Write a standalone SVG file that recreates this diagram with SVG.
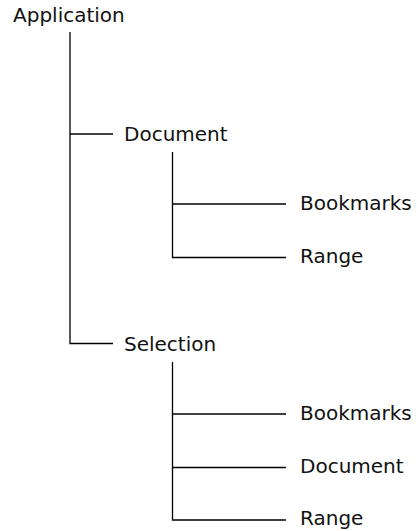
<svg xmlns="http://www.w3.org/2000/svg" width="417" height="531" viewBox="0 0 417 531">
  <style>
    .lbl { font-family: "DejaVu Sans", "Liberation Sans", sans-serif; font-size: 20px; fill: #111; }
    .wire { fill: none; stroke: #000; stroke-width: 1.3; }
  </style>
  <rect width="417" height="531" fill="#fff"/>

  <!-- tree connectors -->
  <g id="connectors" class="wire">
    <!-- Application -> Document, Selection -->
    <path d="M70 32 V343.5 H113"/>
    <path d="M70 134 H113"/>
    <!-- Document -> Bookmarks, Range -->
    <path d="M172.5 152 V257.5 H286"/>
    <path d="M172.5 204 H286"/>
    <!-- Selection -> Bookmarks, Document, Range -->
    <path d="M172.5 362 V520 H286"/>
    <path d="M172.5 414 H286"/>
    <path d="M172.5 467.5 H286"/>
  </g>

  <g id="application"><text class="lbl" x="13" y="22">Application</text></g>
  <g id="document"><text class="lbl" x="124" y="141">Document</text></g>
  <g id="document-bookmarks"><text class="lbl" x="300" y="209.5">Bookmarks</text></g>
  <g id="document-range"><text class="lbl" x="300" y="262.5">Range</text></g>
  <g id="selection"><text class="lbl" x="124" y="350.5">Selection</text></g>
  <g id="selection-bookmarks"><text class="lbl" x="300" y="419.5">Bookmarks</text></g>
  <g id="selection-document"><text class="lbl" x="300" y="472.5">Document</text></g>
  <g id="selection-range"><text class="lbl" x="300" y="525">Range</text></g>
</svg>
